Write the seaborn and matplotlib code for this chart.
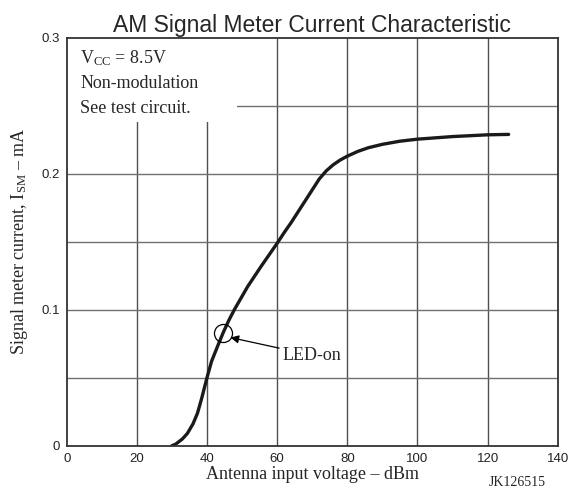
import numpy as np
import pandas as pd
import seaborn as sns
import matplotlib.pyplot as plt
from matplotlib.patches import Rectangle

# values
input_dbm = [30, 31, 32, 33, 34.4, 36, 37.3, 38.5, 40, 41.3, 43.0, 44.6, 46.2,
             47.8, 51.6, 55.4, 60, 62.1, 64, 68, 70, 72, 74, 76, 78, 80, 83,
             86, 90, 95, 100, 110, 120, 126]
meter_ma = [0.0, 0.001, 0.003, 0.005, 0.009, 0.016, 0.024, 0.035, 0.050, 0.062,
            0.073, 0.083, 0.092, 0.100, 0.117, 0.1317, 0.1488, 0.157, 0.164,
            0.180, 0.188, 0.196, 0.202, 0.2065, 0.210, 0.2128, 0.2163, 0.219,
            0.2215, 0.2238, 0.2253, 0.2272, 0.2285, 0.2288]

led_on = (44.6, 0.0830)

x_ticks = [0, 20, 40, 60, 80, 100, 120, 140]
y_ticks = [0, 0.1, 0.2, 0.3]
y_tick_labels = ['0', '0.1', '0.2', '0.3']
y_grid = [0.05, 0.1, 0.15, 0.2, 0.25]

df = pd.DataFrame({'dBm': input_dbm, 'mA': meter_ma})

sns.set_style('white')
plt.rcParams['font.family'] = ['Liberation Sans', 'DejaVu Sans']
plt.rcParams['mathtext.fontset'] = 'custom'
plt.rcParams['mathtext.rm'] = 'Liberation Serif'
plt.rcParams['mathtext.it'] = 'Liberation Serif'

fig = plt.figure(figsize=(5.77, 4.97), dpi=100)
ax = fig.add_axes([0.1156, 0.1032, 0.851, 0.8213])

# grid drawn by hand so the note box can sit on top of it
ax.vlines(x_ticks[1:-1], 0, 0.3, colors='#505050', lw=1.0, zorder=1)
ax.hlines(y_grid, 0, 140, colors='#707070', lw=1.0, zorder=1)

# white box behind the conditions note
ax.add_patch(Rectangle((0, 0.238), 48.5, 0.062, facecolor='white',
                       edgecolor='none', zorder=2))

sns.lineplot(data=df, x='dBm', y='mA', ax=ax, color='#1a1a1a', lw=2.4, zorder=3)

ax.set_xlim(0, 140)
ax.set_ylim(0, 0.3)
ax.set_xticks(x_ticks)
ax.set_yticks(y_ticks)
ax.set_yticklabels(y_tick_labels)
ax.tick_params(labelsize=9.5, length=0, pad=5, colors='#222222')
ax.set_axisbelow(False)
for s in ax.spines.values():
    s.set_color('#333333')
    s.set_linewidth(1.3)
    s.set_zorder(4)

serif = ['Liberation Serif', 'DejaVu Serif']
ax.text(3.8, 0.285, r'V$_{\mathrm{CC}}$ = 8.5V', family=serif, fontsize=13,
        va='center', zorder=5)
ax.text(3.8, 0.266, 'Non-modulation', family=serif, fontsize=13,
        va='center', zorder=5)
ax.text(3.8, 0.248, 'See test circuit.', family=serif, fontsize=13,
        va='center', zorder=5)

# LED-on marker
ax.plot([led_on[0]], [led_on[1]], marker='o', ms=13, mfc='none', mec='black',
        mew=0.9, zorder=5)
ax.annotate('LED-on', xy=(46.7, 0.0795), xytext=(61.5, 0.0665),
            family=serif, fontsize=13, va='center', ha='left',
            arrowprops=dict(arrowstyle='-|>', color='black', lw=0.9,
                            shrinkA=0, shrinkB=0, mutation_scale=12),
            zorder=5)

ax.set_title('AM Signal Meter Current Characteristic', fontsize=16.5, pad=4)
ax.set_xlabel('Antenna input voltage – dBm', family=serif, fontsize=13, labelpad=1)
ax.set_ylabel(r'Signal meter current, I$_{\mathrm{SM}}$ – mA', family=serif,
              fontsize=13, labelpad=8)

fig.text(0.945, 0.022, 'JK126515', family=serif, fontsize=10, ha='right')

fig.savefig('out.png', dpi=100)
